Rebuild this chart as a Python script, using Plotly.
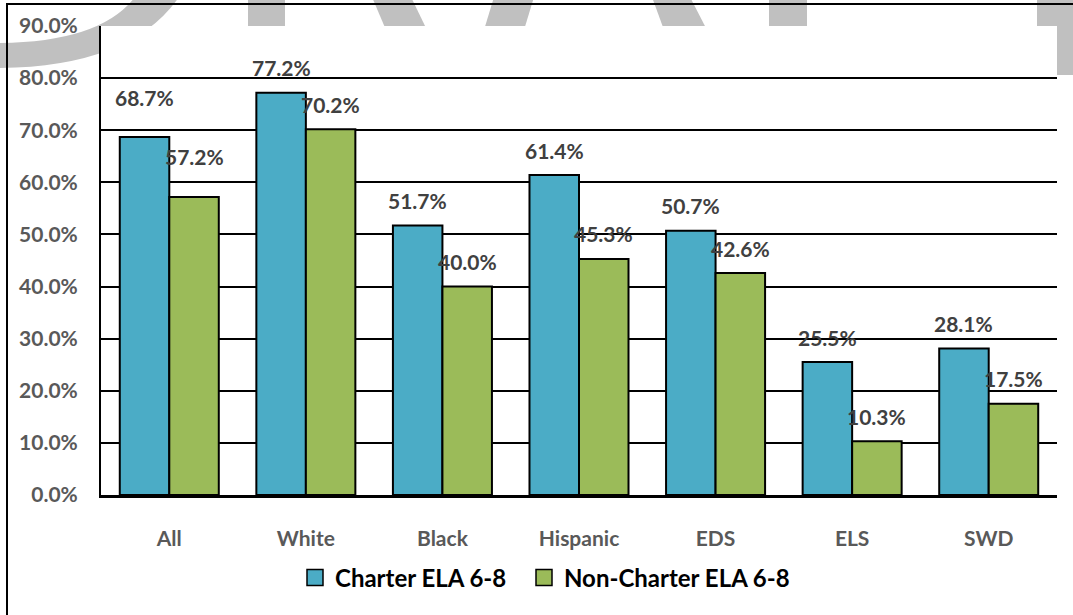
import plotly.graph_objects as go

# ---------------- data ----------------
categories = ["All", "White", "Black", "Hispanic", "EDS", "ELS", "SWD"]
charter_ela = [68.7, 77.2, 51.7, 61.4, 50.7, 25.5, 28.1]
noncharter_ela = [57.2, 70.2, 40.0, 45.3, 42.6, 10.3, 17.5]
series_names = ["Charter ELA 6-8", "Non-Charter ELA 6-8"]
y_tick_values = [0, 10, 20, 30, 40, 50, 60, 70, 80, 90]
y_tick_labels = ["0.0%", "10.0%", "20.0%", "30.0%", "40.0%", "50.0%",
                 "60.0%", "70.0%", "80.0%", "90.0%"]

# ---------------- style ----------------
W, H = 1073, 615
ML, MR, MT, MB = 101, 16, 26, 120
PW, PH = W - ML - MR, H - MT - MB
BARGAP = 0.275
BLUE = "#4BACC6"
GREEN = "#9BBB59"
LABEL_COLOR = "#404040"
TICK_COLOR = "#595959"
WM = "#C0C0C0"
FONT = "Lato"
label_lift_charter = [40, 25, 25, 25, 25, 25, 25]
label_lift_noncharter = [40, 25, 25, 25, 25, 25, 25]


def px(x):
    return (x - ML) / PW


def py(y):
    return (MT + PH - y) / PH


fig = go.Figure()
for name, vals, col in [(series_names[0], charter_ela, BLUE),
                        (series_names[1], noncharter_ela, GREEN)]:
    fig.add_trace(go.Bar(
        x=categories, y=vals, name=name, showlegend=False,
        marker=dict(color=col, line=dict(color="black", width=2)),
    ))
# legend entries (square swatches), one legend box each
for name, col, leg in [(series_names[0], BLUE, "legend"),
                       (series_names[1], GREEN, "legend2")]:
    fig.add_trace(go.Scatter(
        x=[None], y=[None], mode="markers", name=name, legend=leg,
        marker=dict(symbol="square", size=16, color=col,
                    line=dict(color="black", width=1.5)),
    ))

# data labels
bar_off = PW / len(categories) * (1 - BARGAP) / 4
annotations = []
for vals, sign, lifts in [(charter_ela, -1, label_lift_charter),
                          (noncharter_ela, 1, label_lift_noncharter)]:
    for cat, v, lift in zip(categories, vals, lifts):
        annotations.append(dict(
            x=cat, y=v, xref="x", yref="y", text=f"{v:.1f}%",
            showarrow=False, xshift=sign * bar_off, yshift=lift,
            font=dict(family=FONT, size=21, color=LABEL_COLOR, weight="bold"),
        ))

# watermark fragments (outside plot area) + frame
shapes = []


def poly(points):
    d = "M" + " L".join(f"{px(a):.5f},{py(b):.5f}" for a, b in points) + " Z"
    return dict(type="path", xref="paper", yref="paper", path=d,
                fillcolor=WM, line=dict(width=0), layer="below")


arc = (f"M{px(-5):.5f},{py(43):.5f} Q{px(100):.5f},{py(43):.5f} {px(135):.5f},{py(-3):.5f} "
       f"L{px(179):.5f},{py(-3):.5f} Q{px(130):.5f},{py(68):.5f} {px(-5):.5f},{py(68):.5f} Z")
shapes.append(dict(type="path", xref="paper", yref="paper", path=arc,
                   fillcolor=WM, line=dict(width=0), layer="below"))
shapes.append(poly([(248, -3), (285, -3), (285, 40), (248, 40)]))
shapes.append(poly([(372, -3), (411, -3), (427, 30), (386, 30)]))
shapes.append(poly([(494, -3), (534, -3), (524, 30), (484, 30)]))
shapes.append(poly([(652, -3), (690, -3), (707, 30), (664, 30)]))
shapes.append(poly([(769, -3), (807, -3), (807, 40), (769, 40)]))
shapes.append(poly([(1037, -3), (1080, -3), (1080, 75), (1037, 75)]))
# white plot area covering the watermark
shapes.append(dict(type="rect", xref="paper", yref="paper", x0=0, x1=1, y0=0, y1=1,
                   fillcolor="white", line=dict(width=0), layer="below"))
# outer chart frame
shapes.append(dict(type="rect", xref="paper", yref="paper",
                   x0=px(7), y0=py(640), x1=px(1100), y1=py(4),
                   line=dict(color="black", width=2), fillcolor="rgba(0,0,0,0)",
                   layer="above"))

legend_style = dict(orientation="h", xanchor="left", yanchor="middle", y=py(578),
                    font=dict(family=FONT, size=24, color="black", weight="bold"),
                    itemwidth=30, bgcolor="rgba(0,0,0,0)", borderwidth=0)

fig.update_layout(
    width=W, height=H,
    margin=dict(l=ML, r=MR, t=MT, b=MB, pad=0),
    paper_bgcolor="white", plot_bgcolor="white",
    barmode="group", bargap=BARGAP, bargroupgap=0,
    font=dict(family=FONT),
    showlegend=True,
    legend=dict(x=px(295), **legend_style),
    legend2=dict(x=px(524), **legend_style),
    annotations=annotations,
    shapes=shapes,
)
fig.update_xaxes(
    showline=True, linecolor="black", linewidth=2.5, ticks="",
    showgrid=False, ticklabelstandoff=23, automargin=False,
    tickfont=dict(family=FONT, size=21, color=TICK_COLOR, weight="bold"),
)
fig.update_yaxes(
    range=[0, 90], tickvals=y_tick_values, ticktext=y_tick_labels,
    showgrid=True, gridcolor="black", gridwidth=1.5,
    showline=True, linecolor="black", linewidth=2, zeroline=False, ticks="",
    ticklabelstandoff=17, automargin=False,
    tickfont=dict(family=FONT, size=21, color=TICK_COLOR, weight="bold"),
)

fig.write_html(
    "out.html",
    config={"displayModeBar": False},
    post_script="document.body.style.margin='0';document.body.style.overflow='hidden';",
)
